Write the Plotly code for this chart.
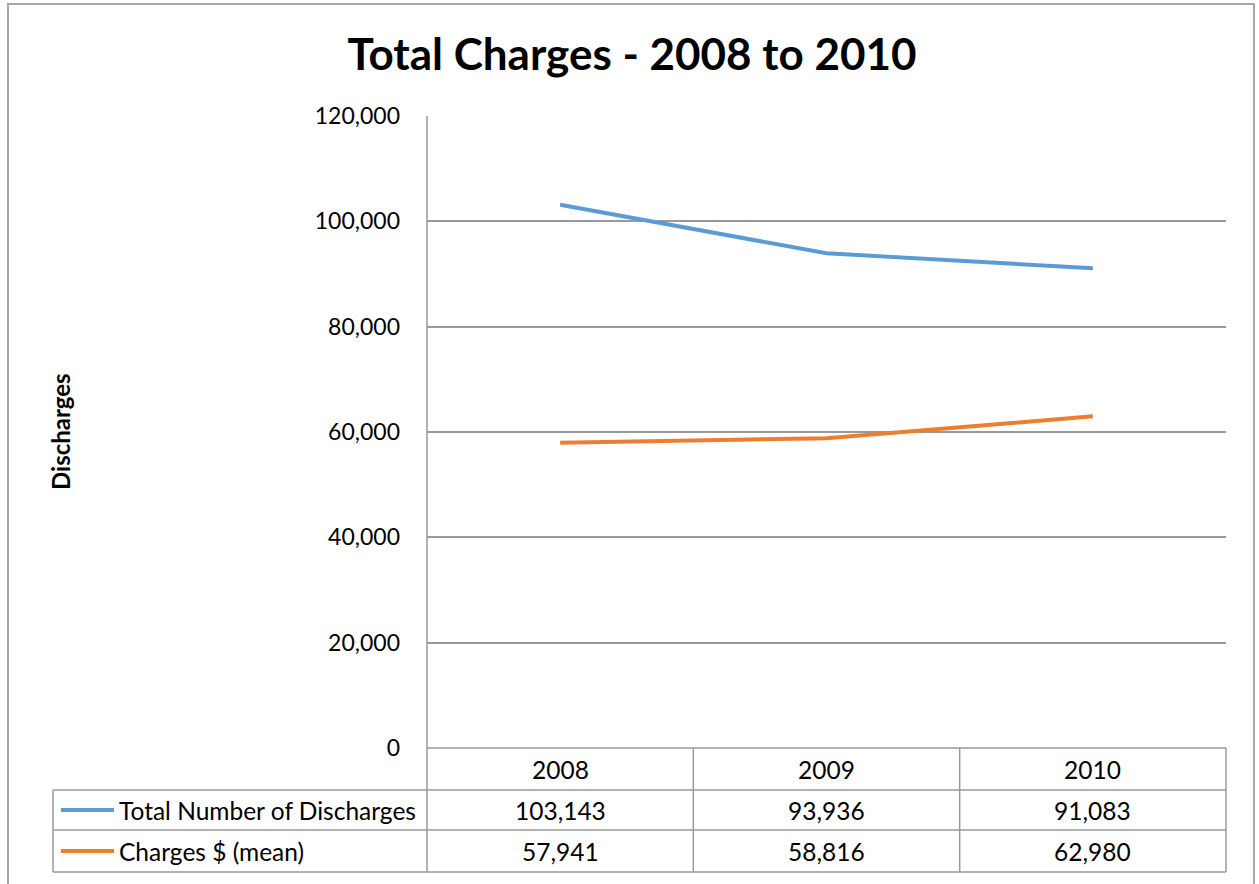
import plotly.graph_objects as go

# Chart data
years = ["2008", "2009", "2010"]
discharges = [103143, 93936, 91083]
mean_charges = [57941, 58816, 62980]
series_names = ["Total Number of Discharges", "Charges $ (mean)"]
series_colors = ["#5B9BD5", "#ED7D31"]
y_ticks = [0, 20000, 40000, 60000, 80000, 100000, 120000]

W, H = 1259, 884
# plot-area pixel box
PL, PR, PT, PB = 427, 1226, 116, 748
FONT = "Lato, Calibri, Carlito, sans-serif"
GRID = "#9a9a9a"
TXT = 24.5


def px(x):
    return (x - PL) / (PR - PL)


def py(y):
    return (PB - y) / (PB - PT)


fig = go.Figure()
xs = list(range(len(years)))
for vals, name, col in zip([discharges, mean_charges], series_names, series_colors):
    fig.add_trace(go.Scatter(x=xs, y=vals, mode="lines", name=name,
                             line=dict(color=col, width=4), showlegend=False,
                             hoverinfo="skip"))

shapes = []
annotations = []

# outer chart border
shapes.append(dict(type="rect", xref="paper", yref="paper",
                   x0=px(8), x1=px(1254), y0=py(900), y1=py(4),
                   line=dict(color="#a6a6a6", width=2), layer="below"))

# data table rows
row_tops = [748, 790, 830, 872]
for i, yy in enumerate(row_tops):
    x_start = PL if i == 0 else 53
    shapes.append(dict(type="line", xref="paper", yref="paper",
                       x0=px(x_start), x1=px(PR), y0=py(yy), y1=py(yy),
                       line=dict(color=GRID, width=1.5)))
# vertical table lines
shapes.append(dict(type="line", xref="paper", yref="paper",
                   x0=px(PL), x1=px(PL), y0=py(872), y1=py(PT),
                   line=dict(color=GRID, width=1.5)))
shapes.append(dict(type="line", xref="paper", yref="paper",
                   x0=px(53), x1=px(53), y0=py(872), y1=py(790),
                   line=dict(color=GRID, width=1.5)))
shapes.append(dict(type="line", xref="paper", yref="paper",
                   x0=px(PR), x1=px(PR), y0=py(872), y1=py(748),
                   line=dict(color=GRID, width=1.5)))
for b in [0.5, 1.5]:
    shapes.append(dict(type="line", xref="x", yref="paper",
                       x0=b, x1=b, y0=py(872), y1=py(748),
                       line=dict(color=GRID, width=1.5)))

# header row: years
for i, yr in enumerate(years):
    annotations.append(dict(x=i, y=py(769), xref="x", yref="paper", text=yr,
                            showarrow=False, xanchor="center", yanchor="middle",
                            font=dict(size=TXT, color="#000", family=FONT)))

# series rows: legend key, name and values
row_centers = [810, 851]
for vals, name, col, yc in zip([discharges, mean_charges], series_names,
                               series_colors, row_centers):
    shapes.append(dict(type="line", xref="paper", yref="paper",
                       x0=px(61), x1=px(114), y0=py(yc), y1=py(yc),
                       line=dict(color=col, width=4)))
    annotations.append(dict(x=px(117), y=py(yc), xref="paper", yref="paper",
                            text=name, showarrow=False, xanchor="left",
                            yanchor="middle",
                            font=dict(size=TXT, color="#000", family=FONT)))
    for i, v in enumerate(vals):
        annotations.append(dict(x=i, y=py(yc), xref="x", yref="paper",
                                text=f"{v:,}", showarrow=False,
                                xanchor="center", yanchor="middle",
                                font=dict(size=TXT, color="#000", family=FONT)))

# axis title
annotations.append(dict(x=px(60), y=py(432), xref="paper", yref="paper",
                        text="<b>Discharges</b>", showarrow=False, textangle=-90,
                        xanchor="center", yanchor="middle",
                        font=dict(size=24, color="#000", family=FONT)))

fig.update_layout(
    width=W, height=H,
    margin=dict(l=PL, r=W - PR, t=PT, b=H - PB, pad=0),
    paper_bgcolor="white", plot_bgcolor="white",
    title=dict(text="<b>Total Charges - 2008 to 2010</b>",
               xref="container", x=632 / W, xanchor="center",
               yref="container", y=1 - 55 / H, yanchor="middle",
               font=dict(size=44, color="#000", family=FONT)),
    xaxis=dict(range=[-0.5, 2.5], showticklabels=False, showgrid=False,
               zeroline=False, showline=False, fixedrange=True),
    yaxis=dict(range=[0, 120000], tickvals=y_ticks,
               ticktext=[f"{t:,}" for t in y_ticks],
               showgrid=True, gridcolor=GRID, gridwidth=1.5,
               zeroline=False, showline=False, ticks="",
               ticklabelstandoff=26,
               tickfont=dict(size=23, color="#000", family=FONT)),
    shapes=shapes, annotations=annotations,
)

fig.write_html("out.html")
